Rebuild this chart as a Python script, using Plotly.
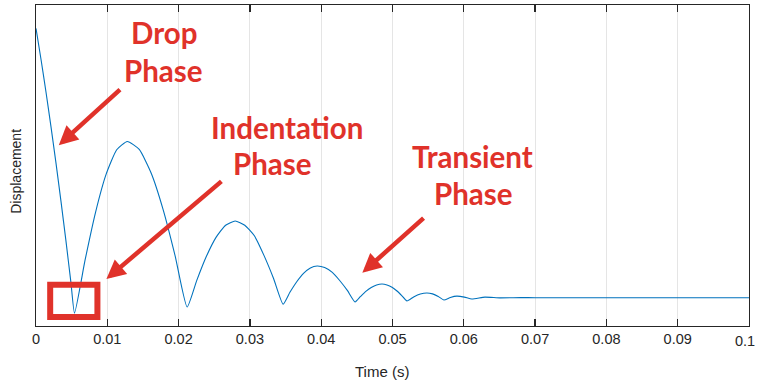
import plotly.graph_objects as go

# Time (s) and displacement (arbitrary units, axis has no labels)
time_s = [
    0.0, 0.0007, 0.0014, 0.0021, 0.0028, 0.0035, 0.0042, 0.0049, 0.0054,
    0.00688, 0.00836, 0.00984, 0.01132, 0.0128,
    0.01448, 0.01616, 0.01784, 0.01952, 0.0212,
    0.02255, 0.0239, 0.02525, 0.02659, 0.02794,
    0.02928, 0.03063, 0.03197, 0.03332, 0.03466,
    0.03561, 0.03657, 0.03752, 0.03848, 0.03943,
    0.04049, 0.04156, 0.04262, 0.04369, 0.04475,
    0.04551, 0.04626, 0.04702, 0.04777, 0.04853,
    0.04923, 0.04993, 0.05063, 0.05133, 0.05203,
    0.05296, 0.0539, 0.05483, 0.05562, 0.05642, 0.05721,
    0.05812, 0.05903, 0.06008, 0.06113,
    0.06296, 0.06506, 0.068, 0.07, 0.075, 0.08, 0.085, 0.09, 0.095, 0.1,
]
displacement = [
    0.927, 0.831, 0.729, 0.621, 0.508, 0.389, 0.265, 0.135, 0.040,
    0.205, 0.355, 0.473, 0.549, 0.575,
    0.550, 0.476, 0.362, 0.218, 0.059,
    0.142, 0.217, 0.276, 0.314, 0.327,
    0.314, 0.281, 0.220, 0.148, 0.068,
    0.105, 0.138, 0.164, 0.181, 0.187,
    0.182, 0.167, 0.141, 0.110, 0.075,
    0.092, 0.108, 0.120, 0.128, 0.131,
    0.128, 0.121, 0.109, 0.094, 0.078,
    0.0905, 0.0997, 0.103, 0.100, 0.092, 0.081,
    0.089, 0.093, 0.090, 0.084,
    0.090, 0.0875, 0.0885, 0.088, 0.0882, 0.0879, 0.0881, 0.0880, 0.0879, 0.0880,
]

x_ticks = [0, 0.01, 0.02, 0.03, 0.04, 0.05, 0.06, 0.07, 0.08, 0.09, 0.1]
x_tick_labels = ["0", "0.01", "0.02", "0.03", "0.04", "0.05", "0.06", "0.07", "0.08", "0.09", "0.1"]

W, H = 757, 382
L, R, T, B = 35.5, 749.5, 4.5, 326.0
RED = "#E0322A"
DARK = "#262626"
TICK_FONT = dict(family="Liberation Sans, Arial", size=14.5, color=DARK)


def px(xp):
    return (xp - L) / (R - L)


def py(yp):
    return (B - yp) / (B - T)


fig = go.Figure()
fig.add_trace(go.Scatter(
    x=time_s, y=displacement, mode="lines",
    line=dict(color="#0072BD", width=1.1, shape="spline", smoothing=0.5),
    hoverinfo="skip", showlegend=False,
))

labels = [
    ("Drop", 163.5, 31.7), ("Phase", 163.5, 70.0),
    ("Indentation", 287.3, 127.5), ("Phase", 272.5, 163.5),
    ("Transient", 473.0, 156.0), ("Phase", 473.5, 193.0),
]
annotations = []
for txt, cx, cy in labels:
    annotations.append(dict(
        text=txt, x=px(cx), y=py(cy), xref="paper", yref="paper",
        xanchor="center", yanchor="middle", showarrow=False,
        font=dict(family="Lato", size=29.5, color=RED, weight="bold"),
    ))

arrows = [
    ((58.3, 145.0), (121.0, 88.0)),
    ((106.0, 279.0), (222.5, 180.0)),
    ((362.3, 272.7), (425.0, 216.7)),
]
for (tx, ty), (sx, sy) in arrows:
    annotations.append(dict(
        text="", x=px(tx), y=py(ty), xref="paper", yref="paper",
        ax=sx - tx, ay=sy - ty, axref="pixel", ayref="pixel",
        showarrow=True, arrowhead=2, arrowsize=0.85, arrowwidth=4.5,
        arrowcolor=RED, standoff=0,
    ))

# last tick label sits against the right edge of the picture
annotations.append(dict(
    text=x_tick_labels[-1], x=px(757.5), y=py(341.0), xref="paper", yref="paper",
    xanchor="right", yanchor="middle", showarrow=False, font=TICK_FONT,
))
annotations.append(dict(
    text="Time (s)", x=px(382), y=py(371.5), xref="paper", yref="paper",
    xanchor="center", yanchor="middle", showarrow=False,
    font=dict(family="Liberation Sans, Arial", size=15, color=DARK),
))
annotations.append(dict(
    text="Displacement", x=px(15.5), y=py(171.5), xref="paper", yref="paper",
    xanchor="center", yanchor="middle", showarrow=False, textangle=-90,
    font=dict(family="Liberation Sans, Arial", size=14, color=DARK),
))

fig.update_layout(
    width=W, height=H,
    margin=dict(l=L, r=W - R, t=T, b=H - B, pad=0),
    paper_bgcolor="white", plot_bgcolor="white",
    font=dict(family="Liberation Sans, Arial", size=14, color=DARK),
    annotations=annotations,
    shapes=[dict(
        type="rect", xref="paper", yref="paper",
        x0=px(49.7), x1=px(97.0), y0=py(317.0), y1=py(284.7),
        line=dict(color=RED, width=6), layer="above",
    )],
)
fig.update_xaxes(
    range=[0, 0.1], tickvals=x_ticks, ticktext=x_tick_labels[:-1] + [""],
    showgrid=True, gridcolor="#E5E5E5", gridwidth=1,
    showline=True, linecolor=DARK, linewidth=1, mirror="ticks",
    ticks="inside", ticklen=7, tickwidth=1.3, tickcolor=DARK,
    tickfont=TICK_FONT,
    zeroline=False, fixedrange=True,
)
fig.update_yaxes(
    range=[0, 1], showgrid=False, showticklabels=False, ticks="",
    showline=True, linecolor=DARK, linewidth=1, mirror=True,
    zeroline=False, fixedrange=True,
)

fig.write_html(
    "out.html",
    config={"displayModeBar": False, "staticPlot": True},
    post_script=(
        "document.body.style.margin='0px';"
        "document.body.style.overflow='hidden';"
        "document.documentElement.style.overflow='hidden';"
    ),
)
